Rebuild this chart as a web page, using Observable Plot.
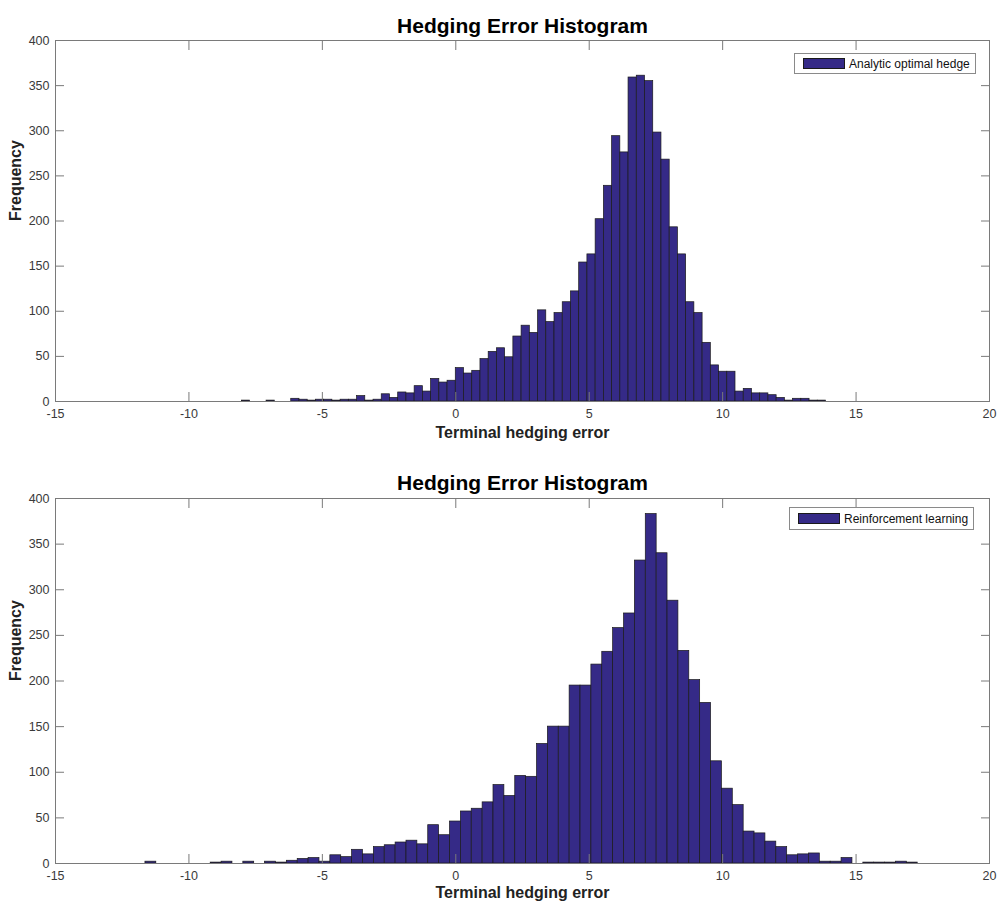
<!DOCTYPE html>
<html>
<head>
<meta charset="utf-8">
<script src="https://cdn.jsdelivr.net/npm/d3@7"></script>
<script src="https://cdn.jsdelivr.net/npm/@observablehq/plot@0.6"></script>
<style>
  body { margin: 0; background: #fff; font-family: "Liberation Sans", Arial, sans-serif; }
  #wrap { position: relative; width: 1000px; height: 912px; }
  #wrap svg { display: block; }
  .legend { position: absolute; box-sizing: border-box; border: 1px solid #8a8a8a; background: #fff;
            display: flex; align-items: center; font-size: 12px; color: #111; white-space: nowrap; }
  .legend .sw { box-sizing: border-box; width: 42px; height: 11px; background: #352a87;
                border: 1px solid #1a1a1a; margin: 0 4px 0 8px; flex: none; }
</style>
</head>
<body>
<div id="wrap"></div>
<script>
// ---- text ----
const chartTitle = "Hedging Error Histogram";
const xLabel = "Terminal hedging error";
const yLabel = "Frequency";
const seriesNames = ["Analytic optimal hedge", "Reinforcement learning"];

// ---- ticks ----
const xTicks = [-15, -10, -5, 0, 5, 10, 15, 20];
const yTicks = [0, 50, 100, 150, 200, 250, 300, 350, 400];

// ---- top histogram: Analytic optimal hedge (bin start, bin width, counts) ----
const analyticStart = -8.016;
const analyticBinWidth = 0.3083;
const analyticCounts = [
  1, 0, 0, 1, 0, 0, 3, 2, 1, 2, 2, 1, 2, 2, 6, 1, 2, 8, 4, 10,
  9, 17, 11, 25, 21, 23, 37, 31, 34, 47, 55, 59, 49, 72, 84, 76, 101, 88, 98, 110,
  122, 154, 163, 202, 239, 294, 276, 359, 361, 355, 298, 268, 193, 163, 110, 98, 65, 40, 33, 33,
  11, 14, 9, 9, 7, 4, 1, 3, 3, 1, 1
];

// ---- bottom histogram: Reinforcement learning ----
const rlStart = -11.63;
const rlBinWidth = 0.4076;
const rlCounts = [
  2, 0, 0, 0, 0, 0, 1, 2, 0, 2, 0, 2, 1, 3, 5, 6, 2, 9, 7, 15,
  10, 18, 20, 23, 25, 21, 42, 31, 46, 57, 60, 67, 86, 74, 96, 95, 131, 150, 150, 195,
  195, 218, 232, 258, 274, 332, 383, 340, 288, 233, 201, 176, 112, 82, 64, 35, 33, 24, 18, 9,
  10, 11, 2, 2, 6, 0, 1, 1, 1, 2, 1
];

const barFill = "#352a87";
const frameColor = "#7a7a7a";
const tickTextColor = "#3a3a3a";

function binsFrom(start, width, counts) {
  return counts.map((c, i) => ({x1: start + i * width, x2: start + (i + 1) * width, y: c}))
               .filter(d => d.y > 0);
}

function panel(bins, {height, marginTop, marginBottom, titleDy, xLabelDy}) {
  return Plot.plot({
    width: 1000,
    height,
    marginLeft: 55,
    marginRight: 11,
    marginTop,
    marginBottom,
    style: {fontFamily: '"Liberation Sans", Arial, sans-serif', fontSize: "12.5px", background: "#fff", overflow: "visible"},
    x: {domain: [-15, 20]},
    y: {domain: [0, 400]},
    marks: [
      Plot.rectY(bins, {x1: "x1", x2: "x2", y: "y", fill: barFill, stroke: "#1a1a1a", strokeWidth: 0.7, inset: 0}),
      Plot.frame({stroke: frameColor, strokeWidth: 1}),
      // inward tick marks on all four sides
      Plot.axisX({ticks: xTicks, anchor: "bottom", tickSize: 9, dy: -9, tickFormat: () => "", label: null, stroke: frameColor}),
      Plot.axisX({ticks: xTicks, anchor: "top", tickSize: 9, dy: 9, tickFormat: () => "", label: null, stroke: frameColor}),
      Plot.axisY({ticks: yTicks, anchor: "left", tickSize: 9, dx: 9, tickFormat: () => "", label: null, stroke: frameColor}),
      Plot.axisY({ticks: yTicks, anchor: "right", tickSize: 9, dx: -9, tickFormat: () => "", label: null, stroke: frameColor}),
      // tick labels (plain hyphen minus, as in the reference)
      Plot.axisX({ticks: xTicks, anchor: "bottom", tickSize: 0, tickPadding: 8, tickFormat: d => String(d), label: null, fill: tickTextColor}),
      Plot.axisY({ticks: yTicks, anchor: "left", tickSize: 0, tickPadding: 6, tickFormat: d => String(d), label: null, fill: tickTextColor}),
      // title and axis labels
      Plot.text([chartTitle], {text: d => d, frameAnchor: "top", dy: titleDy, fontSize: 21, fontWeight: "bold", fill: "#000"}),
      Plot.text([xLabel], {text: d => d, frameAnchor: "bottom", dy: xLabelDy, fontSize: 16, fontWeight: "bold", fill: "#222"}),
      Plot.text([yLabel], {text: d => d, frameAnchor: "left", dx: -40, rotate: -90, fontSize: 16, fontWeight: "bold", fill: "#222"})
    ]
  });
}

const wrap = document.getElementById("wrap");
wrap.appendChild(panel(binsFrom(analyticStart, analyticBinWidth, analyticCounts),
  {height: 456, marginTop: 40, marginBottom: 55, titleDy: -22, xLabelDy: 36}));
wrap.appendChild(panel(binsFrom(rlStart, rlBinWidth, rlCounts),
  {height: 456, marginTop: 42, marginBottom: 49, titleDy: -23, xLabelDy: 34}));

// legends (HTML overlays)
const legendBoxes = [
  {name: seriesNames[0], left: 794, top: 53, width: 182, height: 21},
  {name: seriesNames[1], left: 789, top: 507, width: 185, height: 23}
];
legendBoxes.forEach(l => {
  const div = d3.select(wrap).append("div").attr("class", "legend")
    .style("left", l.left + "px").style("top", l.top + "px")
    .style("width", l.width + "px").style("height", l.height + "px");
  div.append("div").attr("class", "sw");
  div.append("span").text(l.name);
});
</script>
</body>
</html>
